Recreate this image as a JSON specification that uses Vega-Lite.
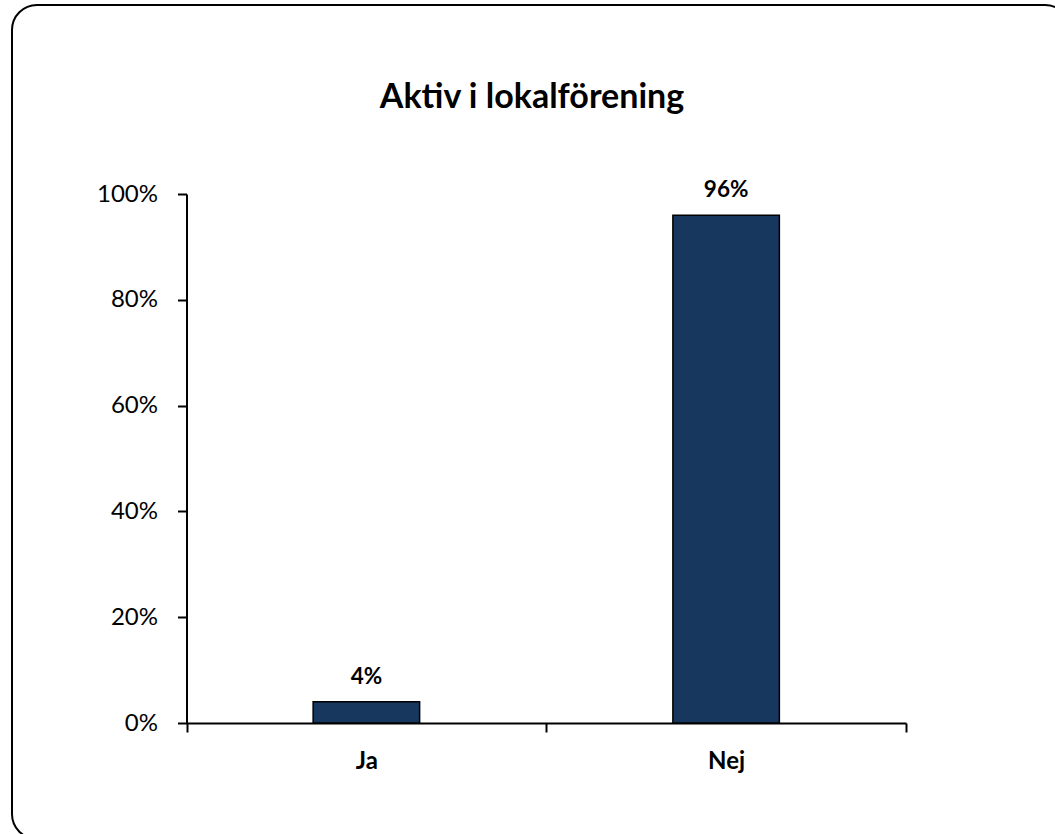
{
  "$schema": "https://vega.github.io/schema/vega-lite/v6.json",
  "width": 1058,
  "height": 834,
  "autosize": {"type": "none"},
  "padding": {"left": 12, "top": 5, "right": 0, "bottom": 0},
  "background": "white",
  "title": {
    "text": "Aktiv i lokalförening",
    "font": "Lato",
    "fontSize": 34,
    "fontWeight": "bold",
    "color": "black",
    "anchor": "middle",
    "frame": "group",
    "baseline": "alphabetic",
    "offset": -137,
    "dx": -9
  },
  "data": {"values": [
    {"svar": "Ja", "andel": 0.04},
    {"svar": "Nej", "andel": 0.96}
  ]},
  "encoding": {
    "x": {
      "field": "svar",
      "type": "nominal",
      "sort": null,
      "scale": {"range": [174.5, 894], "paddingInner": 0, "paddingOuter": 0},
      "axis": {
        "title": null,
        "orient": "bottom",
        "offset": -116,
        "domainColor": "black",
        "domainWidth": 2,
        "tickColor": "black",
        "tickWidth": 2,
        "tickSize": 9,
        "tickBand": "extent",
        "labelFont": "Lato",
        "labelFontSize": 24,
        "labelFontWeight": "bold",
        "labelColor": "black",
        "labelPadding": 17,
        "labelAngle": 0,
        "grid": false
      }
    },
    "y": {
      "field": "andel",
      "type": "quantitative",
      "scale": {"domain": [0, 1], "range": [718, 189], "nice": false, "zero": true},
      "axis": {
        "title": null,
        "offset": -174.5,
        "values": [0, 0.2, 0.4, 0.6, 0.8, 1],
        "format": ".0%",
        "domainColor": "black",
        "domainWidth": 2,
        "tickColor": "black",
        "tickWidth": 2,
        "tickSize": 9,
        "labelFont": "Lato",
        "labelFontSize": 24,
        "labelColor": "black",
        "labelPadding": 20,
        "grid": false
      }
    }
  },
  "layer": [
    {
      "mark": {"type": "bar", "fill": "#17375E", "stroke": "black", "strokeWidth": 1.5, "width": {"band": 0.296}}
    },
    {
      "mark": {"type": "text", "font": "Lato", "fontSize": 22.5, "fontWeight": "bold", "baseline": "alphabetic", "dy": -18, "color": "black"},
      "encoding": {"text": {"field": "andel", "type": "quantitative", "format": ".0%"}}
    }
  ],
  "config": {"view": {"stroke": "black", "strokeWidth": 2, "cornerRadius": 25}}
}
